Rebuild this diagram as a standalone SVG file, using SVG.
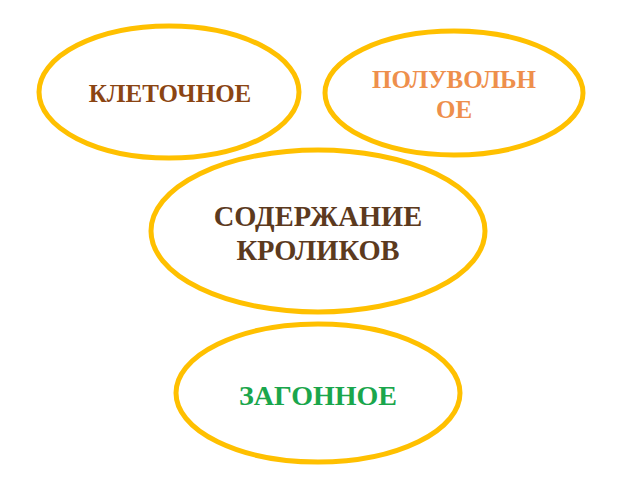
<svg xmlns="http://www.w3.org/2000/svg" width="640" height="480" viewBox="0 0 640 480">
<style>
.node ellipse{fill:#ffffff;stroke:#FFC000;stroke-width:5}
.lbl{font-family:"Liberation Serif","Times New Roman",serif;font-weight:bold;text-anchor:middle}
</style>
<rect width="640" height="480" fill="#ffffff"/>
<g id="connectors"></g>
<g id="node-kletochnoe" class="node">
<ellipse cx="169" cy="92" rx="130" ry="66"/>
<text class="lbl" x="170" y="102" font-size="25" fill="#8B4513">КЛЕТОЧНОЕ</text>
</g>
<g id="node-poluvolnoe" class="node">
<ellipse cx="454" cy="93" rx="129" ry="62"/>
<text class="lbl" x="454" y="88" font-size="25" fill="#EE8F4C">ПОЛУВОЛЬН</text>
<text class="lbl" x="454" y="118" font-size="25" fill="#EE8F4C">ОЕ</text>
</g>
<g id="node-soderzhanie" class="node">
<ellipse cx="318" cy="231" rx="167" ry="81"/>
<text class="lbl" x="318" y="226" font-size="28.5" fill="#5C3A1E">СОДЕРЖАНИЕ</text>
<text class="lbl" x="318" y="260" font-size="28.5" fill="#5C3A1E">КРОЛИКОВ</text>
</g>
<g id="node-zagonnoe" class="node">
<ellipse cx="318" cy="393" rx="142" ry="69"/>
<text class="lbl" x="318" y="405" font-size="28" fill="#1AA64C">ЗАГОННОЕ</text>
</g>
</svg>
